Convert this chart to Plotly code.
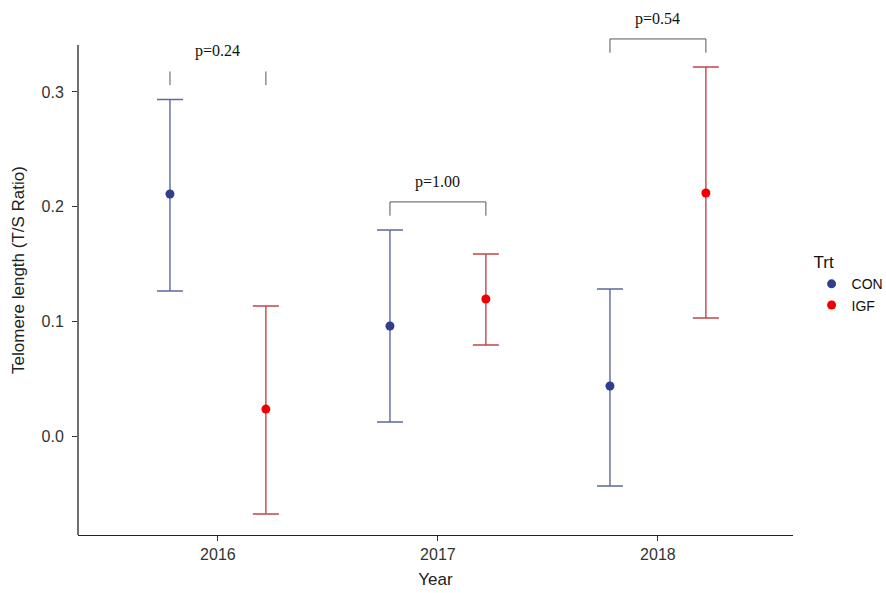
import plotly.graph_objects as go

# Telomere length by year and treatment (mean with interval bounds)
years = ["2016", "2017", "2018"]
groups = ["CON", "IGF"]

con_mean = [0.2110, 0.0959, 0.0436]
con_low = [0.1264, 0.0122, -0.0436]
con_high = [0.2934, 0.1796, 0.1282]

igf_mean = [0.0235, 0.1195, 0.2119]
igf_low = [-0.0680, 0.0793, 0.1029]
igf_high = [0.1133, 0.1587, 0.3217]

p_labels = ["p=0.24", "p=1.00", "p=0.54"]
bracket_bar = [False, True, True]

dodge = 0.218
base = [i + 1 for i in range(len(years))]

series = [
    ("CON", con_mean, con_low, con_high, "#2F3F8C", "#5C6A9C", -dodge),
    ("IGF", igf_mean, igf_low, igf_high, "#F00000", "#C0474A", dodge),
]

fig = go.Figure()
for name, mean, low, high, mcol, ecol, off in series:
    fig.add_trace(go.Scatter(
        x=[b + off for b in base],
        y=mean,
        mode="markers",
        name=name,
        marker=dict(color=mcol, size=9),
        error_y=dict(
            type="data",
            symmetric=False,
            array=[h - m for h, m in zip(high, mean)],
            arrayminus=[m - l for m, l in zip(mean, low)],
            color=ecol,
            thickness=1.4,
            width=13,
        ),
    ))

# significance brackets placed above the taller interval of each year
shapes = []
annotations = []
for i, b in enumerate(base):
    top = max(con_high[i], igf_high[i])
    y_bar = top + 0.0245
    y_tip = top + 0.0125
    x0, x1 = b - dodge, b + dodge
    line = dict(color="#555555", width=1)
    shapes.append(dict(type="line", xref="x", yref="y", x0=x0, x1=x0, y0=y_tip, y1=y_bar, line=line))
    shapes.append(dict(type="line", xref="x", yref="y", x0=x1, x1=x1, y0=y_tip, y1=y_bar, line=line))
    if bracket_bar[i]:
        shapes.append(dict(type="line", xref="x", yref="y", x0=x0, x1=x1, y0=y_bar, y1=y_bar, line=line))
    annotations.append(dict(
        x=b, y=top + 0.042, xref="x", yref="y", text=p_labels[i], showarrow=False,
        font=dict(family="Liberation Serif", size=16, color="#111111"),
    ))

y_min, y_max, y_axis_top = -0.0863, 0.3758, 0.3409
# left axis line stops below the bracket area
shapes.append(dict(type="line", xref="paper", yref="y", x0=0, x1=0, y0=y_min, y1=y_axis_top,
                   line=dict(color="#222222", width=1.3)))

fig.update_layout(
    width=886, height=593,
    margin=dict(l=78, r=93, t=5, b=58, autoexpand=False),
    plot_bgcolor="white", paper_bgcolor="white",
    font=dict(family="Liberation Sans", color="#222222"),
    shapes=shapes,
    annotations=annotations,
    showlegend=True,
    legend=dict(
        title=dict(text="Trt", font=dict(size=17, color="#111111")),
        x=1.026, xanchor="left", y=0.545, yanchor="top",
        font=dict(size=14, color="#111111"),
        tracegroupgap=0, itemwidth=30,
        bgcolor="rgba(0,0,0,0)",
    ),
    xaxis=dict(
        range=[0.364, 3.614],
        tickmode="array", tickvals=base, ticktext=years,
        showgrid=False, zeroline=False,
        showline=True, linecolor="#222222", linewidth=1.3,
        ticks="outside", ticklen=5, tickcolor="#333333",
        tickfont=dict(size=16, color="#333333"),
        title=dict(text="Year", font=dict(size=17, color="#222222"), standoff=10),
    ),
    yaxis=dict(
        range=[y_min, y_max],
        tickmode="array", tickvals=[0.0, 0.1, 0.2, 0.3], ticktext=["0.0", "0.1", "0.2", "0.3"],
        showgrid=False, zeroline=False, showline=False,
        ticks="outside", ticklen=5, tickcolor="#333333",
        ticklabelstandoff=5,
        tickfont=dict(size=16, color="#333333"),
        title=dict(text="Telomere length (T/S Ratio)", font=dict(size=17, color="#222222"), standoff=12),
    ),
)

fig.write_html("out.html")
